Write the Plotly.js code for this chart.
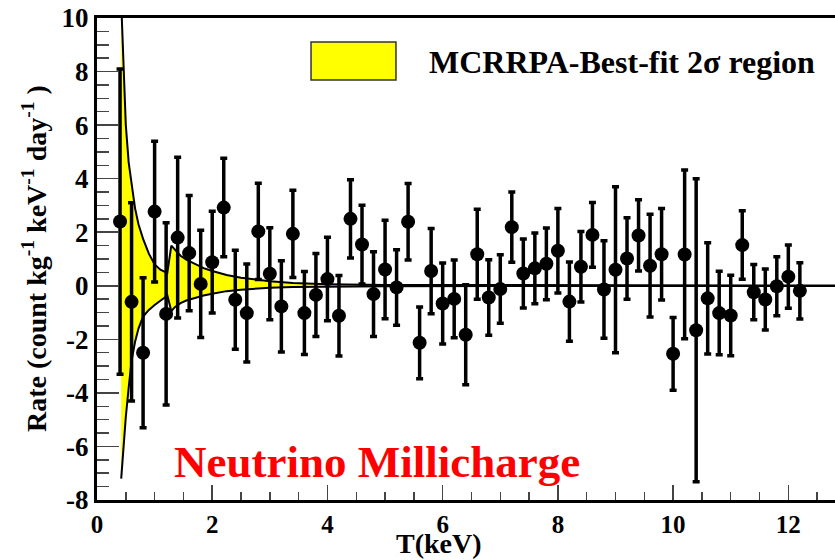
<!DOCTYPE html>
<html>
<head>
<meta charset="utf-8">
<script src="https://cdn.plot.ly/plotly-3.0.1.min.js"></script>
<style>
html,body{margin:0;padding:0;background:#fff;overflow:hidden;}
#chart{width:835px;height:560px;}
</style>
</head>
<body>
<div id="chart"></div>
<script>
// Measured data points: energy T (keV), rate, symmetric error
const energy = [0.4,0.6,0.8,1.0,1.2,1.4,1.6,1.8,2.0,2.2,2.4,2.6,2.8,3.0,3.2,3.4,3.6,3.8,4.0,4.2,
                4.4,4.6,4.8,5.0,5.2,5.4,5.6,5.8,6.0,6.2,6.4,6.6,6.8,7.0,7.2,7.4,7.6,7.8,8.0,8.2,
                8.4,8.6,8.8,9.0,9.2,9.4,9.6,9.8,10.0,10.2,10.4,10.6,10.8,11.0,11.2,11.4,11.6,11.8,12.0,12.2];
const rate = [2.4,-0.6,-2.5,2.77,-1.05,1.8,1.22,0.07,0.88,2.92,-0.52,-1.02,2.03,0.45,-0.77,1.94,-1.02,-0.34,0.25,-1.12,
              2.5,1.54,-0.31,0.61,-0.06,2.39,-2.13,0.55,-0.66,-0.49,-1.83,1.18,-0.44,-0.12,2.19,0.46,0.65,0.82,1.31,-0.59,
              0.71,1.9,-0.14,0.6,1.02,1.88,0.75,1.18,-2.54,1.17,-1.66,-0.47,-1.02,-1.11,1.52,-0.24,-0.51,-0.02,0.34,-0.19];
const rateErr = [5.7,3.7,2.8,2.63,3.4,3.0,2.15,2.0,1.9,1.84,1.85,1.83,1.8,1.72,1.7,1.63,1.55,1.55,1.56,1.5,
                 1.46,1.47,1.58,1.84,1.41,1.43,1.34,1.59,1.51,1.45,1.87,1.68,1.41,1.28,1.31,1.29,1.32,1.34,1.58,1.48,
                 1.32,1.21,1.82,3.1,1.52,1.33,1.92,1.71,1.36,3.15,5.66,2.08,1.56,1.5,1.28,1.03,1.14,1.1,1.18,1.05];

// MCRRPA best-fit 2-sigma band
const bandX     = [0.42,0.46,0.50,0.55,0.60,0.66,0.72,0.80,0.90,1.00,1.10,1.17,1.22,
                   1.29,1.35,1.45,1.55,1.70,1.85,2.00,2.25,2.50,2.83,3.00,3.40,4.00,5.00,8.00,12.81];
const bandUpper = [10.6,8.0,6.0,4.6,3.9,2.9,2.3,1.75,1.2,0.8,0.6,0.52,0.48,
                   1.5,1.35,1.12,0.98,0.82,0.66,0.55,0.4,0.3,0.21,0.17,0.1,0.06,0.03,0.015,0.01];
const bandLower = [-7.2,-5.9,-4.9,-3.8,-2.8,-2.1,-1.6,-1.15,-0.9,-0.72,-0.58,-0.45,-0.35,
                   -0.95,-0.8,-0.65,-0.55,-0.45,-0.36,-0.3,-0.2,-0.15,-0.09,-0.07,-0.05,-0.03,-0.015,-0.01,-0.005];

// Tick labels (plain hyphen minus as in the reference)
const xTickVals = [0,2,4,6,8,10,12];
const xTickText = ['0','2','4','6','8','10','12'];
const yTickVals = [-8,-6,-4,-2,0,2,4,6,8,10];
const yTickText = ['-8','-6','-4','-2','0','2','4','6','8','10'];

const xTitle = 'T(keV)';
const yTitle = 'Rate (count kg<sup>-1</sup> keV<sup>-1</sup> day<sup>-1</sup> )';
const legendText = 'MCRRPA-Best-fit 2σ region';
const labelText = 'Neutrino Millicharge';

const serif = 'Liberation Serif, Times New Roman, serif';

const traces = [
  {x: bandX, y: bandLower, type: 'scatter', mode: 'lines',
   line: {color: '#000', width: 2}, hoverinfo: 'skip', showlegend: false},
  {x: bandX, y: bandUpper, type: 'scatter', mode: 'lines', fill: 'tonexty',
   fillcolor: '#ffff00', line: {color: '#000', width: 2}, hoverinfo: 'skip', showlegend: false},
  {x: energy, y: rate, type: 'scatter', mode: 'markers',
   marker: {color: '#000', size: 14},
   error_y: {type: 'data', array: rateErr, visible: true, color: '#000', thickness: 3.5, width: 3.5},
   showlegend: false}
];

const tickColor = '#444';

const layout = {
  width: 835, height: 560,
  margin: {l: 97, r: 0, t: 18, b: 60},
  paper_bgcolor: '#fff', plot_bgcolor: '#fff',
  showlegend: false,
  xaxis: {
    range: [0, 12.81], tickmode: 'array', tickvals: xTickVals, ticktext: xTickText,
    ticks: 'inside', ticklen: 15, tickwidth: 1.5, tickcolor: tickColor,
    minor: {dtick: 0.5, tick0: 0, ticks: 'inside', ticklen: 8, tickwidth: 1.5, tickcolor: tickColor},
    showline: true, linecolor: '#000', linewidth: 3, mirror: true,
    showgrid: false, zeroline: false,
    tickfont: {family: serif, size: 25, color: '#000', weight: 'bold'}
  },
  yaxis: {
    range: [-8, 10], tickmode: 'array', tickvals: yTickVals, ticktext: yTickText,
    ticks: 'inside', ticklen: 22, tickwidth: 1.5, tickcolor: tickColor,
    minor: {dtick: 0.5, tick0: 0, ticks: 'inside', ticklen: 12, tickwidth: 1.5, tickcolor: tickColor},
    showline: true, linecolor: '#000', linewidth: 3, mirror: false,
    showgrid: false, zeroline: false,
    tickfont: {family: serif, size: 27, color: '#000', weight: 'bold'}
  },
  shapes: [
    {type: 'rect', xref: 'paper', yref: 'paper', x0: 0.29, x1: 0.4051, y0: 0.8714, y1: 0.9502,
     fillcolor: '#ffff00', line: {color: '#333', width: 1.5}}
  ],
  annotations: [
    {text: legendText, xref: 'paper', yref: 'paper', x: 0.4472, y: 0.9087, xanchor: 'left', yanchor: 'middle',
     showarrow: false, font: {family: serif, size: 32, color: '#000', weight: 'bold'}},
    {text: labelText, xref: 'paper', yref: 'paper', x: 0.380, y: 0.079, xanchor: 'center', yanchor: 'middle',
     showarrow: false, font: {family: serif, size: 45, color: '#ff0000', weight: 'bold'}},
    {text: xTitle, xref: 'paper', yref: 'paper', x: (439-97)/738, y: -0.09, xanchor: 'center', yanchor: 'middle',
     showarrow: false, font: {family: serif, size: 28, color: '#000', weight: 'bold'}},
    {text: yTitle, xref: 'paper', yref: 'paper', x: (34-97)/738, y: 0.5, xanchor: 'center', yanchor: 'middle',
     textangle: -90, showarrow: false, font: {family: serif, size: 28, color: '#000', weight: 'bold'}}
  ]
};

Plotly.newPlot('chart', traces, layout, {staticPlot: true, displayModeBar: false});
</script>
</body>
</html>
